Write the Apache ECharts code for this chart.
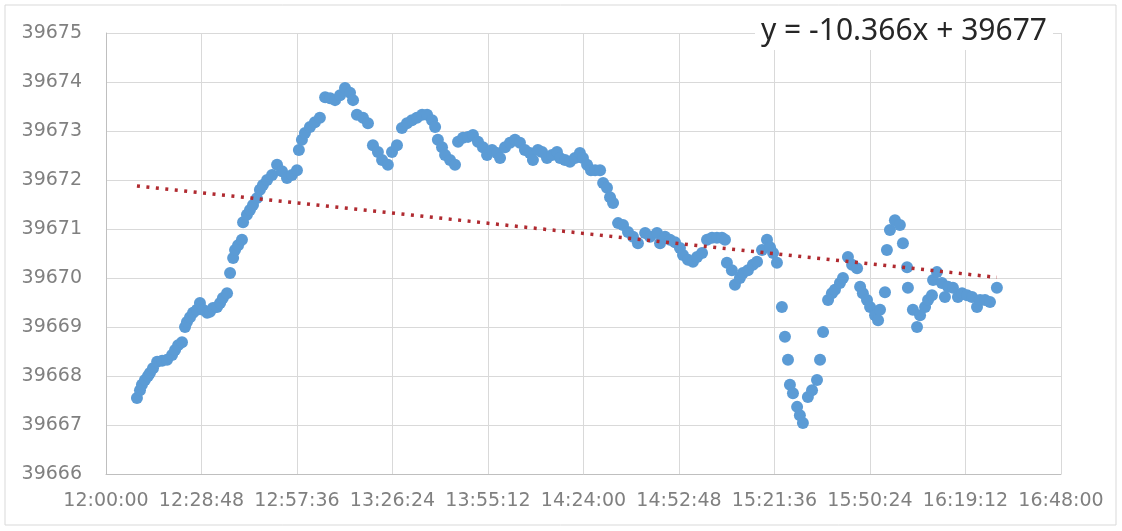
<!DOCTYPE html>
<html>
<head>
<meta charset="utf-8">
<script src="https://cdn.jsdelivr.net/npm/echarts@6/dist/echarts.min.js"></script>
<style>
  html, body { margin: 0; padding: 0; background: #fff; }
  #chart { width: 1122px; height: 531px; }
</style>
</head>
<body>
<div id="chart"></div>
<script>
// readings, time of day
const times = [
  '12:09:20', '12:10:15', '12:10:50', '12:11:45', '12:12:40', '12:13:15', '12:14:10', '12:15:25', '12:16:55', '12:18:25',
  '12:19:55', '12:20:50', '12:21:45', '12:22:55', '12:23:50', '12:24:25', '12:25:20', '12:26:15', '12:27:25', '12:28:20',
  '12:29:15', '12:30:30', '12:31:20', '12:32:15', '12:33:30', '12:34:25', '12:35:15', '12:36:30', '12:37:25', '12:38:20',
  '12:38:55', '12:39:50', '12:41:00', '12:41:20', '12:42:30', '12:43:25', '12:44:20', '12:45:30', '12:46:25', '12:47:20',
  '12:48:35', '12:50:05', '12:51:35', '12:53:05', '12:54:35', '12:56:05', '12:57:35', '12:58:10', '12:59:05', '13:00:00',
  '13:01:30', '13:03:00', '13:04:30', '13:06:05', '13:07:35', '13:09:05', '13:10:35', '13:12:05', '13:13:35', '13:14:30',
  '13:15:40', '13:17:30', '13:19:00', '13:20:30', '13:22:00', '13:23:15', '13:25:00', '13:26:15', '13:27:45', '13:29:15',
  '13:30:45', '13:32:15', '13:33:45', '13:35:20', '13:36:50', '13:38:20', '13:39:15', '13:40:05', '13:41:20', '13:42:15',
  '13:43:45', '13:45:15', '13:46:10', '13:47:40', '13:49:10', '13:50:40', '13:52:10', '13:53:40', '13:54:55', '13:56:25',
  '13:57:55', '13:58:50', '14:00:20', '14:01:50', '14:03:20', '14:04:50', '14:06:20', '14:07:50', '14:08:45', '14:10:15',
  '14:11:30', '14:13:00', '14:14:30', '14:16:00', '14:16:55', '14:18:25', '14:19:55', '14:21:25', '14:22:55', '14:23:50',
  '14:25:05', '14:26:15', '14:27:30', '14:29:00', '14:29:55', '14:31:05', '14:32:00', '14:32:55', '14:34:25', '14:35:55',
  '14:37:25', '14:38:55', '14:40:25', '14:42:35', '14:44:05', '14:46:10', '14:47:05', '14:48:35', '14:50:05', '14:51:35',
  '14:53:05', '14:54:00', '14:55:30', '14:57:00', '14:58:15', '14:59:45', '15:01:15', '15:02:45', '15:04:15', '15:05:45',
  '15:06:40', '15:07:15', '15:08:45', '15:09:40', '15:11:10', '15:12:05', '15:13:35', '15:15:05', '15:16:20', '15:17:50',
  '15:19:20', '15:20:15', '15:21:10', '15:22:20', '15:23:50', '15:24:45', '15:25:40', '15:26:15', '15:27:10', '15:28:25',
  '15:29:15', '15:30:10', '15:31:40', '15:32:55', '15:34:25', '15:35:20', '15:36:15', '15:37:45', '15:38:55', '15:39:50',
  '15:41:20', '15:42:15', '15:43:45', '15:45:00', '15:46:30', '15:47:25', '15:48:15', '15:49:30', '15:50:25', '15:51:55',
  '15:52:50', '15:53:25', '15:54:55', '15:55:30', '15:56:25', '15:57:55', '15:59:25', '16:00:20', '16:01:35', '16:01:50',
  '16:03:20', '16:04:35', '16:05:30', '16:07:00', '16:07:55', '16:09:05', '16:09:25', '16:10:35', '16:12:05', '16:13:00',
  '16:13:55', '16:15:25', '16:16:55', '16:18:10', '16:19:40', '16:21:10', '16:22:40', '16:23:35', '16:25:05', '16:26:35',
  '16:28:40'
];
const values = [
  39667.55, 39667.71, 39667.82, 39667.92, 39668.00, 39668.06, 39668.16, 39668.29, 39668.31, 39668.33,
  39668.43, 39668.53, 39668.63, 39668.69, 39669.00, 39669.10, 39669.20, 39669.29, 39669.35, 39669.49,
  39669.35, 39669.29, 39669.31, 39669.39, 39669.41, 39669.49, 39669.59, 39669.69, 39670.10, 39670.41,
  39670.57, 39670.67, 39670.78, 39671.14, 39671.29, 39671.39, 39671.49, 39671.63, 39671.80, 39671.90,
  39672.00, 39672.10, 39672.31, 39672.18, 39672.04, 39672.10, 39672.20, 39672.61, 39672.82, 39672.96,
  39673.08, 39673.18, 39673.27, 39673.69, 39673.67, 39673.63, 39673.73, 39673.88, 39673.78, 39673.63,
  39673.33, 39673.27, 39673.16, 39672.71, 39672.57, 39672.41, 39672.31, 39672.57, 39672.71, 39673.06,
  39673.16, 39673.22, 39673.27, 39673.33, 39673.33, 39673.22, 39673.08, 39672.82, 39672.67, 39672.51,
  39672.41, 39672.31, 39672.78, 39672.86, 39672.88, 39672.92, 39672.78, 39672.67, 39672.51, 39672.61,
  39672.55, 39672.45, 39672.67, 39672.76, 39672.82, 39672.76, 39672.61, 39672.55, 39672.41, 39672.61,
  39672.57, 39672.45, 39672.51, 39672.57, 39672.45, 39672.41, 39672.37, 39672.45, 39672.55, 39672.45,
  39672.31, 39672.20, 39672.20, 39672.20, 39671.94, 39671.84, 39671.65, 39671.53, 39671.12, 39671.08,
  39670.94, 39670.84, 39670.71, 39670.92, 39670.84, 39670.92, 39670.71, 39670.84, 39670.78, 39670.73,
  39670.61, 39670.47, 39670.37, 39670.33, 39670.43, 39670.51, 39670.78, 39670.82, 39670.82, 39670.82,
  39670.78, 39670.31, 39670.16, 39669.86, 39670.00, 39670.10, 39670.16, 39670.27, 39670.33, 39670.57,
  39670.78, 39670.63, 39670.51, 39670.31, 39669.41, 39668.80, 39668.33, 39667.82, 39667.65, 39667.37,
  39667.20, 39667.04, 39667.57, 39667.71, 39667.92, 39668.33, 39668.90, 39669.55, 39669.69, 39669.76,
  39669.90, 39670.00, 39670.43, 39670.27, 39670.20, 39669.82, 39669.69, 39669.55, 39669.41, 39669.24,
  39669.14, 39669.35, 39669.71, 39670.57, 39670.98, 39671.18, 39671.08, 39670.71, 39670.22, 39669.80,
  39669.35, 39669.00, 39669.24, 39669.41, 39669.55, 39669.65, 39669.96, 39670.12, 39669.90, 39669.61,
  39669.82, 39669.80, 39669.61, 39669.69, 39669.65, 39669.61, 39669.41, 39669.55, 39669.55, 39669.51,
  39669.80
];

// linear trend, x in days (Excel time)
const trendSlope = -10.366;
const trendIntercept = 39677.13;
const trendLabel = 'y = -10.366x + 39677';

function toSec(t) {
  const p = t.split(':').map(Number);
  return p[0] * 3600 + p[1] * 60 + p[2];
}
function fmtTime(s) {
  const h = Math.floor(s / 3600), m = Math.floor((s % 3600) / 60), sec = Math.round(s % 60);
  return h + ':' + String(m).padStart(2, '0') + ':' + String(sec).padStart(2, '0');
}

const points = times.map((t, i) => [toSec(t), values[i]]);
const x0 = points[0][0], x1 = points[points.length - 1][0];
const trend = [x0, x1].map(s => [s, trendIntercept + trendSlope * s / 86400]);

const chart = echarts.init(document.getElementById('chart'));
chart.setOption({
  animation: false,
  grid: { left: 106, right: 61, top: 33, bottom: 57, outerBoundsMode: 'none' },
  title: {
    text: trendLabel, left: 755, top: 12, padding: [4, 6],
    backgroundColor: '#fff',
    textStyle: { fontFamily: 'Noto Sans', fontSize: 30, fontWeight: 'normal', color: '#262626' }
  },
  xAxis: {
    type: 'value', min: 43200, max: 60480, interval: 1728,
    axisLine: { lineStyle: { color: '#bfbfbf' } },
    axisTick: { show: false },
    axisLabel: { formatter: fmtTime, color: '#808080', fontFamily: 'DejaVu Sans', fontSize: 19, margin: 18 },
    splitLine: { lineStyle: { color: '#d9d9d9' } }
  },
  yAxis: {
    type: 'value', min: 39666, max: 39675, interval: 1,
    axisLine: { show: true, lineStyle: { color: '#bfbfbf' } },
    axisTick: { show: false },
    axisLabel: { formatter: v => String(v), color: '#808080', fontFamily: 'DejaVu Sans', fontSize: 19, margin: 24 },
    splitLine: { lineStyle: { color: '#d9d9d9' } }
  },
  graphic: [{
    type: 'rect', shape: { x: 5, y: 5, width: 1111, height: 520 },
    style: { fill: 'none', stroke: '#d9d9d9', lineWidth: 1 }, silent: true
  }],
  series: [
    {
      type: 'scatter', data: points, symbolSize: 12,
      itemStyle: { color: '#5b9bd5', opacity: 1 }
    },
    {
      type: 'line', data: trend, showSymbol: false, z: 3,
      lineStyle: { color: '#b02a30', width: 3.5, type: [3, 6.5] }
    }
  ]
});
</script>
</body>
</html>
